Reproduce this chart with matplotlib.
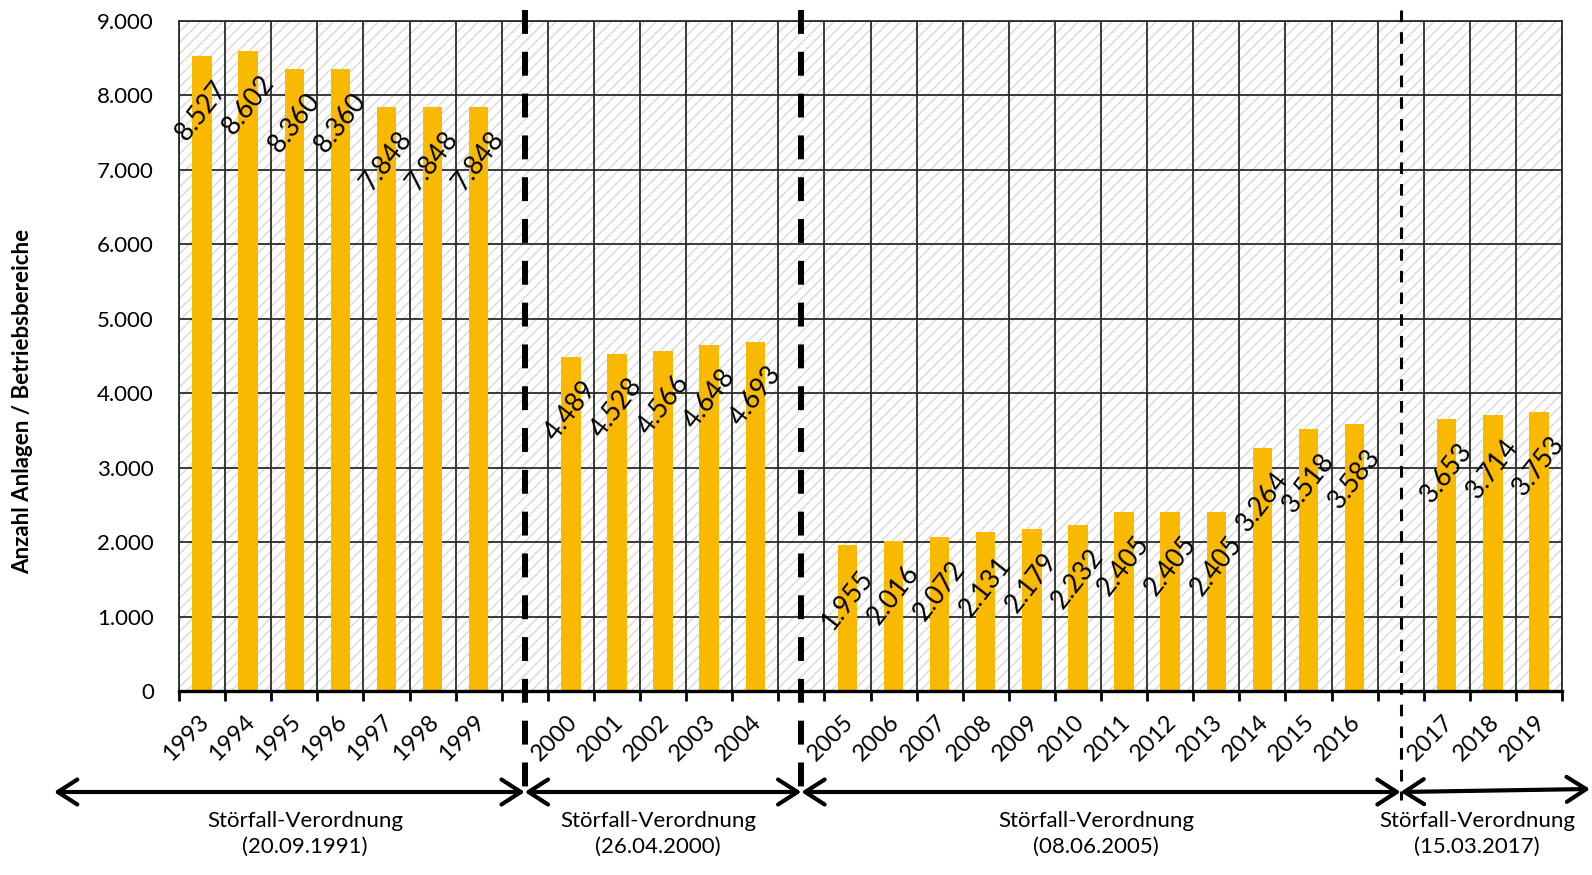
import numpy as np
import matplotlib.pyplot as plt
import matplotlib.transforms as mtransforms
from matplotlib.patches import Rectangle
from matplotlib.ticker import FixedLocator, MultipleLocator, FuncFormatter

plt.rcParams['font.family'] = ['Lato', 'DejaVu Sans']
plt.rcParams['hatch.linewidth'] = 1.0
plt.rcParams['hatch.color'] = '#d9d9d9'

years = [1993, 1994, 1995, 1996, 1997, 1998, 1999,
         2000, 2001, 2002, 2003, 2004,
         2005, 2006, 2007, 2008, 2009, 2010, 2011, 2012, 2013, 2014, 2015, 2016,
         2017, 2018, 2019]
anlagen = [8527, 8602, 8360, 8360, 7848, 7848, 7848,
           4489, 4528, 4566, 4648, 4693,
           1955, 2016, 2072, 2131, 2179, 2232, 2405, 2405, 2405, 3264, 3518, 3583,
           3653, 3714, 3753]
# letztes Jahr vor einer neuen Fassung der Verordnung
breaks = [1999, 2004, 2016]
verordnungen = ['20.09.1991', '26.04.2000', '08.06.2005', '15.03.2017']

def de_fmt(v, _=None):
    return f'{int(v):,}'.replace(',', '.')

# slot positions, one empty slot after each break year
pos = []
slot = 0
for y in years:
    pos.append(slot)
    slot += 2 if y in breaks else 1
n_slots = slot
break_pos = [pos[years.index(b)] + 1 for b in breaks]

W, H = 1592, 875
fig = plt.figure(figsize=(W / 100, H / 100), dpi=100)
ax = fig.add_axes([179 / W, 1 - 691 / H, (1562 - 179) / W, (691 - 21) / H])

# hatched background
ax.add_patch(Rectangle((0, 0), 1, 1, transform=ax.transAxes, facecolor='white',
                       edgecolor='#d9d9d9', hatch='///', lw=0, zorder=0))
ax.set_facecolor('white')

ax.bar(pos, anlagen, width=0.42, color='#F9B900', zorder=2)

for p, v in zip(pos, anlagen):
    ax.annotate(de_fmt(v), xy=(p, v), xytext=(0, -39), textcoords='offset points',
                ha='center', va='center', rotation=52, rotation_mode='anchor',
                fontsize=19, color='black', zorder=3)

ax.set_xlim(-0.5, n_slots - 0.5)
ax.set_ylim(0, 9000)
ax.yaxis.set_major_locator(MultipleLocator(1000))
ax.yaxis.set_major_formatter(FuncFormatter(de_fmt))

ax.set_xticks(pos)
ax.set_xticklabels([str(y) for y in years])
ax.xaxis.set_minor_locator(FixedLocator(np.arange(n_slots + 1) - 0.5))

ax.set_axisbelow(True)
ax.grid(which='major', axis='y', color='#2b2b2b', lw=1.3)
ax.grid(which='minor', axis='x', color='#2b2b2b', lw=1.3)

ax.tick_params(axis='x', which='major', length=0, pad=20, labelsize=17, labelrotation=45)
ax.tick_params(axis='x', which='minor', length=7, width=2, direction='out', color='black')
ax.tick_params(axis='y', length=0, pad=18, labelsize=16)
shift = mtransforms.ScaledTranslation(3 / 100, 0, fig.dpi_scale_trans)
for lab in ax.get_xticklabels():
    lab.set_ha('right')
    lab.set_va('center')
    lab.set_rotation_mode('anchor')
    lab.set_transform(lab.get_transform() + shift)

for side in ['left', 'top', 'right']:
    ax.spines[side].set_linewidth(1.3)
    ax.spines[side].set_color('#2b2b2b')
ax.spines['bottom'].set_linewidth(2.4)
ax.spines['bottom'].set_color('black')

fig.text(23 / W, 1 - 401 / H, 'Anzahl Anlagen / Betriebsbereiche', rotation=90,
         ha='center', va='center', fontsize=16, fontweight='bold')

# vertical separators between regulation periods
bt = mtransforms.blended_transform_factory(ax.transData, fig.transFigure)
y_top, y_bot = 1 - 10 / H, 1 - 800 / H
for i, bp in enumerate(break_pos):
    if i < 2:
        ax.plot([bp, bp], [y_top, y_bot], transform=bt, color='black', lw=4.3,
                linestyle=(0, (4.0, 3.0)), clip_on=False, zorder=4)
    else:
        ax.plot([bp, bp], [y_top, y_bot], transform=bt, color='black', lw=2.2,
                linestyle=(0, (3.8, 3.3)), clip_on=False, zorder=4)

# arrows for regulation periods
x_left = (54 - 179) / 46.1 - 0.5
x_right = (1590 - 179) / 46.1 - 0.5
edges = [x_left] + break_pos + [x_right]
y_arr = 1 - 792 / H
for i in range(len(edges) - 1):
    y_end = y_arr + (3 / H if i == len(edges) - 2 else 0)
    ax.annotate('', xy=(edges[i + 1], y_end), xytext=(edges[i], y_arr),
                xycoords=('data', 'figure fraction'), textcoords=('data', 'figure fraction'),
                arrowprops=dict(arrowstyle='<->,head_length=0.7,head_width=0.45', lw=3,
                                color='black', shrinkA=0, shrinkB=0, mutation_scale=20),
                annotation_clip=False)

text_x = [305, 658, 1096, 1477]
for tx, d in zip(text_x, verordnungen):
    fig.text(tx / W, 1 - 834 / H, f'Störfall-Verordnung\n({d})', ha='center', va='center',
             fontsize=16, linespacing=1.35)

fig.savefig('out.png', dpi=100)
